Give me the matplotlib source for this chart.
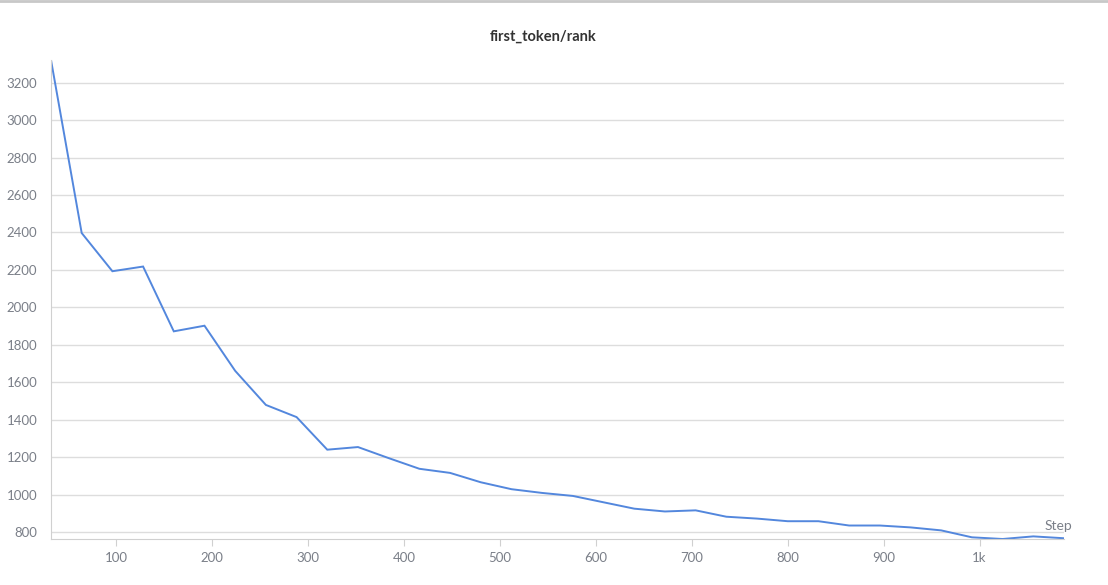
import numpy as np
import matplotlib.pyplot as plt
from matplotlib.lines import Line2D

# step values, logged every 32 steps
steps = list(range(32, 1089, 32))
rank = [3321, 2397, 2193, 2218, 1872, 1902, 1661, 1479, 1414, 1240,
        1254, 1195, 1138, 1116, 1066, 1029, 1009, 993, 959, 925,
        910, 916, 882, 872, 858, 858, 835, 835, 825, 809,
        772, 763, 777, 767]
xticks = [100, 200, 300, 400, 500, 600, 700, 800, 900, 1000]
xtick_labels = ['100', '200', '300', '400', '500', '600', '700', '800', '900', '1k']
yticks = [800, 1000, 1200, 1400, 1600, 1800, 2000, 2200, 2400, 2600, 2800, 3000, 3200]

plt.rcParams['font.family'] = ['Lato', 'DejaVu Sans']

fig = plt.figure(figsize=(11.08, 5.85), dpi=100)
ax = fig.add_axes([51 / 1108, 1 - 539 / 585, (1064 - 51) / 1108, (539 - 60) / 585])

ax.plot(steps, rank, color='#5387dd', lw=1.4, solid_joinstyle='miter')
ax.set_xlim(32, 1088)
ax.set_ylim(763, 3321)

ax.set_xticks(xticks)
ax.set_xticklabels(xtick_labels)
ax.set_yticks(yticks)
ax.grid(axis='y', color='#dddddd', lw=1)
ax.set_axisbelow(True)
for s in ['top', 'right']:
    ax.spines[s].set_visible(False)
for s in ['left', 'bottom']:
    ax.spines[s].set_color('#d0d0d0')
ax.tick_params(axis='x', colors='#d0d0d0', labelcolor='#7a7f88', labelsize=9.5, length=5, pad=4)
ax.tick_params(axis='y', length=0, labelcolor='#7a7f88', labelsize=9.5, pad=10)

fig.text(543 / 1108, 1 - 37 / 585, 'first_token/rank', ha='center', va='center',
         fontsize=10.5, fontweight='bold', color='#333333')
ax.text(0.994, 0.028, 'Step', transform=ax.transAxes, ha='center', va='center',
        fontsize=10, color='#7a7f88')

# border line at the top of the panel
fig.add_artist(Line2D([0, 1], [1 - 1 / 585, 1 - 1 / 585], color='#c8c8c8', lw=2,
                      transform=fig.transFigure))

fig.savefig('out.png', dpi=100)
